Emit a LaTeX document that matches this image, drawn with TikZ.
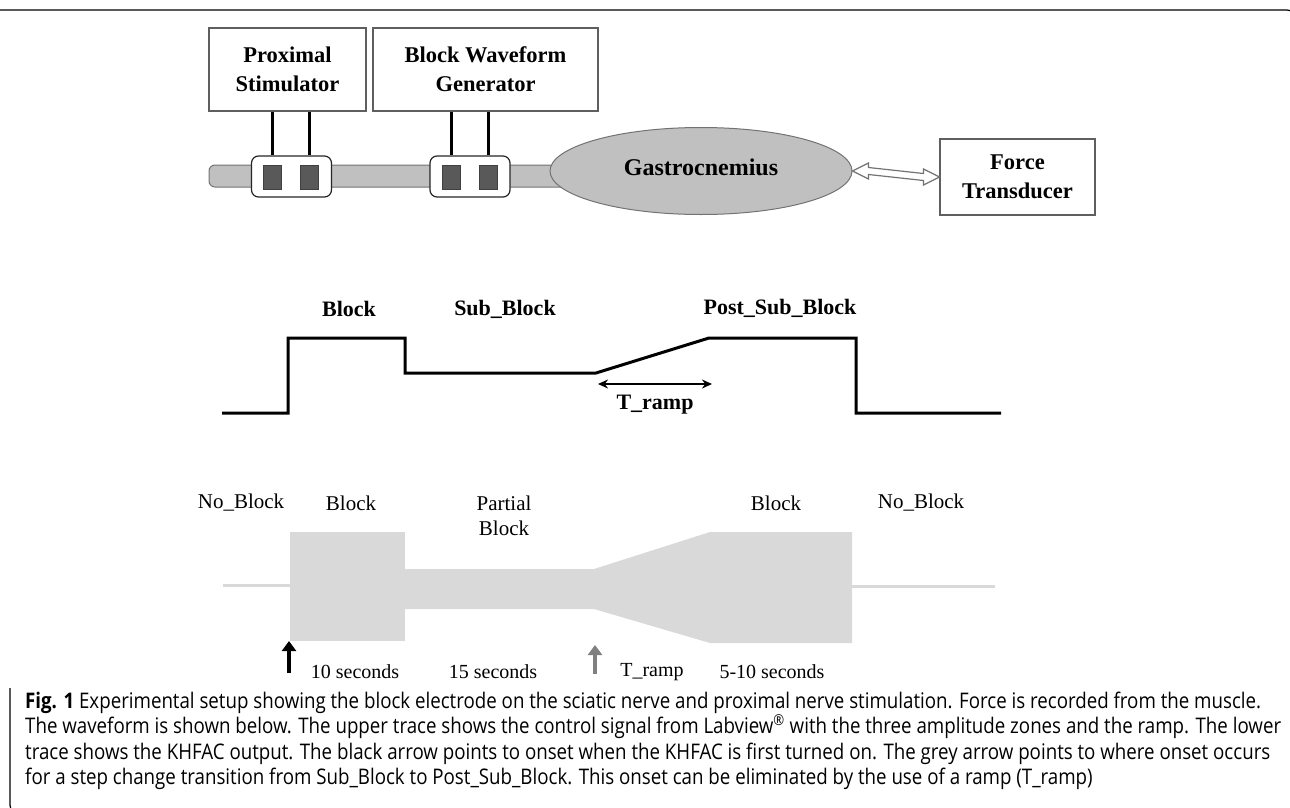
\documentclass[tikz,border=0pt]{standalone}
\usepackage{fontspec}
\setmainfont{Liberation Serif}
\newfontfamily\capfont[FakeStretch=0.87]{Open Sans}
\usepackage{tikz}
\usetikzlibrary{
  arrows.meta,
  calc,
  positioning,
  shapes.geometric
}
\definecolor{nervegray}{RGB}{192,192,192}
\definecolor{nerveedge}{RGB}{115,115,115}
\definecolor{padgray}{RGB}{89,89,89}
\definecolor{boxedge}{RGB}{95,95,95}
\definecolor{khfacgray}{RGB}{217,217,217}
\definecolor{onsetgray}{RGB}{128,128,128}

\begin{document}
\begin{tikzpicture}[x=1pt, y=-1pt,
  inst/.style={draw=boxedge, line width=1.2pt, align=center, inner sep=0pt,
               font=\fontsize{22.5}{29}\selectfont\bfseries},
  cuff/.style={draw=black!85, fill=white, rounded corners=7pt, line width=1.2pt,
               minimum width=80pt, minimum height=41pt, inner sep=0pt},
  pad/.style={draw=black!75, fill=padgray, line width=0.8pt,
              minimum width=18pt, minimum height=24pt, inner sep=0pt},
  wire/.style={line width=3pt},
  trace/.style={line width=3pt, line join=miter},
  toplbl/.style={font=\fontsize{22}{26}\selectfont\bfseries},
  botlbl/.style={font=\fontsize{21}{25}\selectfont, align=center},
  seclbl/.style={font=\fontsize{20}{24}\selectfont},
  caplbl/.style={anchor=base west, inner sep=0pt,
                 font=\capfont\fontsize{21.5}{25}\selectfont},
  onset/.style={line width=3.5pt, -{Triangle[length=10pt, width=14pt]}}
]
\useasboundingbox (0,0) rectangle (1290,808);

% frame
\draw[line width=1.2pt, rounded corners=8pt] (0,10) -- (1295,10) -- (1295,40);
\draw[line width=1.2pt, rounded corners=8pt] (10,688) -- (10,813) -- (40,813);

% setup
\node[inst, minimum width=157pt, minimum height=83pt] (prox) at (287.5,69.5) {Proximal\\Stimulator};
\node[inst, minimum width=225pt, minimum height=83pt] (bwg) at (485.5,69.5) {Block Waveform\\Generator};
\node[inst, minimum width=155pt, minimum height=76pt] (force) at (1017.5,177) {Force\\Transducer};

\draw[draw=nerveedge, fill=nervegray, rounded corners=6pt, line width=1pt] (209,165) rectangle (600,187);
\node[ellipse, draw=nerveedge, fill=nervegray, line width=1pt, inner sep=0pt,
      minimum width=302pt, minimum height=87pt,
      font=\fontsize{24}{28}\selectfont\bfseries] (gastro) at (701,171) {\raisebox{7pt}{Gastrocnemius}};

\node[cuff] (cuffA) at (291.5,176.5) {};
\node[cuff] (cuffB) at (470,176.5) {};
\node[pad] (padA1) at (272,177) {};
\node[pad] (padA2) at (309,177) {};
\node[pad] (padB1) at (451,177) {};
\node[pad] (padB2) at (488.5,177) {};

\draw[wire] (prox.south -| padA1) -- (cuffA.north -| padA1);
\draw[wire] (prox.south -| padA2) -- (cuffA.north -| padA2);
\draw[wire] (bwg.south -| padB1) -- (cuffB.north -| padB1);
\draw[wire] (bwg.south -| padB2) -- (cuffB.north -| padB2);

% hollow double arrow
\draw[draw=nerveedge, fill=white, line width=1.2pt, line join=miter]
  (gastro.east) -- ++(16,-8) -- ++(0,4.5) -- ($(force.west)+(-16,-3.5)$) -- ++(0,-4.5)
  -- (force.west) -- ++(-16,8) -- ++(0,-4.5) -- ($(gastro.east)+(16,3.5)$) -- ++(0,4.5) -- cycle;

% control signal
\draw[trace] (222,413) -- (288,413) -- (288,338) -- (405,338) -- (405,373)
  -- (596,373) -- (709,338) -- (856,338) -- (856,413) -- (1001,413);
\node[toplbl] (lblock) at (349,309) {Block};
\node[toplbl] (lsub) at (505,309) {Sub\_Block};
\node[toplbl] (lpost) at (780,308) {Post\_Sub\_Block};
\coordinate (rampL) at (598,384);
\coordinate (rampR) at (712,384);
\draw[line width=1.6pt, {Stealth[length=10pt, width=9pt]}-{Stealth[length=10pt, width=9pt]}] (rampL) -- (rampR);
\node[toplbl] (lramp) at (655,405) {T\_ramp};

% KHFAC output
\draw[khfacgray, line width=3pt] (223,585) -- (290,585);
\fill[khfacgray] (290,532) rectangle (405,641);
\fill[khfacgray] (405,569) -- (594,569) -- (710,532) -- (852,532) -- (852,643)
  -- (710,643) -- (594,609) -- (405,609) -- cycle;
\draw[khfacgray, line width=3pt] (852,586) -- (995,586);

\node[botlbl] (nb1) at (241,503) {No\_Block};
\node[botlbl] (bl1) at (351,503) {Block};
\node[botlbl] (pb) at (504,515.5) {Partial\\Block};
\node[botlbl] (bl2) at (776,503) {Block};
\node[botlbl] (nb2) at (921,503) {No\_Block};

\coordinate (onA0) at (289,673);
\coordinate (onA1) at (289,641);
\coordinate (onB0) at (595,674);
\coordinate (onB1) at (595,645);
\draw[onset] (onA0) -- (onA1);
\draw[onset, onsetgray] (onB0) -- (onB1);

\node[seclbl] (t10) at (355,672) {10 seconds};
\node[seclbl] (t15) at (493,672) {15 seconds};
\node[seclbl] (tr) at (652,672) {T\_ramp};
\node[seclbl] (t5) at (772,672) {5-10 seconds};

% caption
\node[caplbl] (capA) at (25,708) {\textbf{Fig. 1} Experimental setup showing the block electrode on the sciatic nerve and proximal nerve stimulation. Force is recorded from the muscle.};
\node[caplbl] (capB) at (25,733.5) {The waveform is shown below. The upper trace shows the control signal from Labview\textsuperscript{\textregistered} with the three amplitude zones and the ramp. The lower};
\node[caplbl] (capC) at (25,759) {trace shows the KHFAC output. The black arrow points to onset when the KHFAC is first turned on. The grey arrow points to where onset occurs};
\node[caplbl] (capD) at (25,784.5) {for a step change transition from Sub\_Block to Post\_Sub\_Block. This onset can be eliminated by the use of a ramp (T\_ramp)};
\end{tikzpicture}
\end{document}
